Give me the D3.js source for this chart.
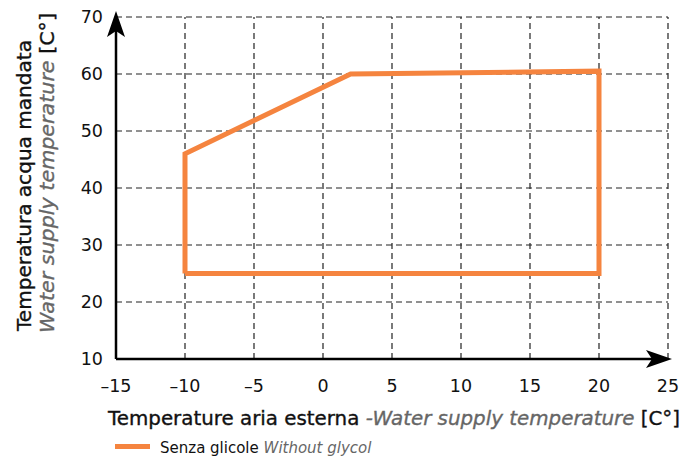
<!DOCTYPE html>
<html>
<head>
<meta charset="utf-8">
<script src="https://cdn.jsdelivr.net/npm/d3@7"></script>
<style>
  body { margin: 0; background: #fff; }
  svg { font-family: "DejaVu Sans", sans-serif; }
</style>
</head>
<body>
<svg width="696" height="457"></svg>
<script>
const xTicks = [-15, -10, -5, 0, 5, 10, 15, 20, 25];
const yTicks = [10, 20, 30, 40, 50, 60, 70];
// operating envelope "Senza glicole"
const envX = [-10, -10, 2, 20, 20, -10];
const envY = [25, 46, 60, 60.5, 25, 25];

const svg = d3.select('svg');
const x = d3.scaleLinear().domain([-15, 25]).range([116, 668]);
const y = d3.scaleLinear().domain([10, 70]).range([359, 17]);

// grid
const grid = svg.append('g')
  .attr('stroke', '#222')
  .attr('stroke-width', 1.2)
  .attr('stroke-dasharray', '6,4');
grid.selectAll('.vg').data(xTicks.slice(1)).enter().append('line')
  .attr('x1', d => x(d)).attr('x2', d => x(d))
  .attr('y1', y(10)).attr('y2', y(70));
grid.selectAll('.hg').data(yTicks.slice(1)).enter().append('line')
  .attr('x1', x(-15)).attr('x2', x(25))
  .attr('y1', d => y(d)).attr('y2', d => y(d));

// envelope
const pts = envX.map((v, i) => [v, envY[i]]);
svg.append('path')
  .attr('d', d3.line().x(d => x(d[0])).y(d => y(d[1]))(pts))
  .attr('fill', 'none')
  .attr('stroke', '#f5843f')
  .attr('stroke-width', 5)
  .attr('stroke-linejoin', 'miter');

// axes lines with arrows
svg.append('line').attr('x1', x(-15)).attr('x2', x(25) - 8)
  .attr('y1', y(10)).attr('y2', y(10)).attr('stroke', '#000').attr('stroke-width', 2.5);
svg.append('line').attr('x1', x(-15)).attr('x2', x(-15))
  .attr('y1', y(10)).attr('y2', y(70) + 8).attr('stroke', '#000').attr('stroke-width', 2.5);
const ax = x(25) + 4, ay = y(10);
svg.append('path').attr('d', `M${ax},${ay} L${ax - 26},${ay - 9} L${ax - 20},${ay} L${ax - 26},${ay + 9} Z`);
const bx = x(-15), by = y(70) - 6;
svg.append('path').attr('d', `M${bx},${by} L${bx - 9},${by + 26} L${bx},${by + 20} L${bx + 9},${by + 26} Z`);

// tick labels
svg.selectAll('.xt').data(xTicks).enter().append('text')
  .attr('x', d => x(d)).attr('y', 392)
  .attr('text-anchor', 'middle').attr('font-size', 17.5).attr('fill', '#111')
  .text(d => d < 0 ? '\u2013' + Math.abs(d) : d);
svg.selectAll('.yt').data(yTicks).enter().append('text')
  .attr('x', 103).attr('y', d => y(d) + 6)
  .attr('text-anchor', 'end').attr('font-size', 17.5).attr('fill', '#111')
  .text(d => d);

// axis titles
const tStyle = sel => sel.attr('font-size', 20).attr('fill', '#111')
  .attr('stroke', '#111').attr('stroke-width', 0.35);
const xt = svg.append('text').attr('x', 108).attr('y', 425).call(tStyle)
  .attr('textLength', 572).attr('lengthAdjust', 'spacingAndGlyphs');
xt.append('tspan').text('Temperature aria esterna ');
xt.append('tspan').attr('font-style', 'italic').attr('fill', '#666').attr('stroke', '#666')
  .text('-Water supply temperature ');
xt.append('tspan').text('[C°]');

const yt = svg.append('g').attr('transform', 'translate(0,331) rotate(-90)');
yt.append('text').attr('x', 0).attr('y', 31).call(tStyle)
  .attr('textLength', 291).attr('lengthAdjust', 'spacingAndGlyphs')
  .text('Temperatura acqua mandata');
const yt2 = yt.append('text').attr('x', -2).attr('y', 54).call(tStyle)
  .attr('textLength', 320).attr('lengthAdjust', 'spacingAndGlyphs');
yt2.append('tspan').attr('font-style', 'italic').attr('fill', '#666').attr('stroke', '#666')
  .text('Water supply temperature ');
yt2.append('tspan').text('[C°]');

// legend
svg.append('rect').attr('x', 115).attr('y', 444).attr('width', 35).attr('height', 5).attr('fill', '#f5843f');
const lg = svg.append('text').attr('x', 160).attr('y', 453).attr('font-size', 15).attr('fill', '#111');
lg.append('tspan').text('Senza glicole ');
lg.append('tspan').attr('font-style', 'italic').attr('fill', '#666').text('Without glycol');
</script>
</body>
</html>
